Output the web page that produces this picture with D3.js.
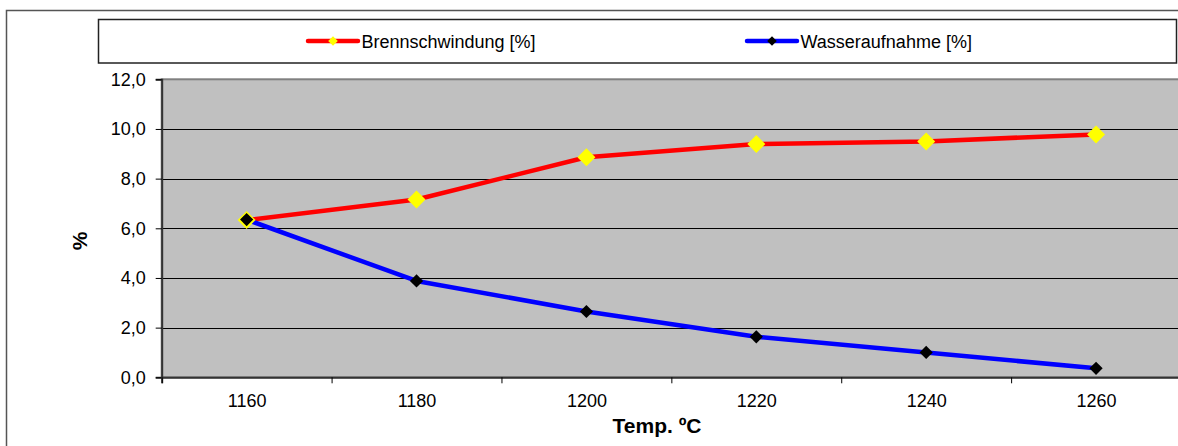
<!DOCTYPE html>
<html>
<head>
<meta charset="utf-8">
<script src="https://cdn.jsdelivr.net/npm/d3@7/dist/d3.min.js"></script>
<style>
  body { margin: 0; background: #fff; }
  svg { display: block; font-family: "Liberation Sans", Arial, sans-serif; }
</style>
</head>
<body>
<svg id="chart" width="1178" height="446"></svg>
<script>
const categories = [1160, 1180, 1200, 1220, 1240, 1260];
const boundaries = [1150, 1170, 1190, 1210, 1230, 1250, 1270];
const brennschwindung = [6.33, 7.16, 8.86, 9.39, 9.50, 9.78];
const wasseraufnahme = [6.35, 3.88, 2.65, 1.63, 1.00, 0.36];
const yTicks = [0, 2, 4, 6, 8, 10, 12];
const seriesNames = ["Brennschwindung [%]", "Wasseraufnahme [%]"];
const xTitle = "Temp. ºC";
const yTitle = "%";

const svg = d3.select("#chart");
const W = 1178, H = 446;
const plot = { left: 161.7, right: 1181, top: 79.3, bottom: 377.3 };

const x = d3.scaleLinear().domain([1150, 1270]).range([plot.left, plot.right]);
const y = d3.scaleLinear().domain([0, 12]).range([plot.bottom, plot.top]);

// outer chart border
svg.append("rect").attr("x", 6.5).attr("y", 10.5).attr("width", W + 10).attr("height", H + 10)
  .attr("fill", "#fff").attr("stroke", "#555").attr("stroke-width", 1.5);

// legend box
svg.append("rect").attr("x", 98.5).attr("y", 19.5).attr("width", 1078).attr("height", 43.5)
  .attr("fill", "#fff").attr("stroke", "#222").attr("stroke-width", 1.5);

// plot area
svg.append("rect").attr("x", plot.left).attr("y", plot.top)
  .attr("width", plot.right - plot.left).attr("height", plot.bottom - plot.top)
  .attr("fill", "#c0c0c0").attr("stroke", "#808080").attr("stroke-width", 2);

// gridlines
svg.append("g").selectAll("line").data(yTicks.filter(d => d > 0 && d < 12)).join("line")
  .attr("x1", plot.left).attr("x2", plot.right)
  .attr("y1", d => Math.round(y(d)) + 0.5).attr("y2", d => Math.round(y(d)) + 0.5)
  .attr("stroke", "#000").attr("stroke-width", 1);

// y axis
const fmt = d => d.toFixed(1).replace(".", ",");
const yAxis = svg.append("g").attr("transform", `translate(${plot.left},0)`)
  .call(d3.axisLeft(y).tickValues(yTicks).tickFormat(fmt).tickSize(6).tickPadding(10));
yAxis.select(".domain").attr("stroke", "#333").attr("stroke-width", 2);
yAxis.selectAll(".tick line").attr("stroke", "#000");
yAxis.selectAll("text").attr("font-size", 18).attr("fill", "#000")
  .attr("font-family", "Liberation Sans, Arial, sans-serif");

// x axis tick marks at boundaries
const xTickAxis = svg.append("g").attr("transform", `translate(0,${plot.bottom})`)
  .call(d3.axisBottom(x).tickValues(boundaries).tickFormat("").tickSize(6));
xTickAxis.select(".domain").attr("stroke", "#333").attr("stroke-width", 2);
xTickAxis.selectAll(".tick line").attr("stroke", "#000");

// x labels at categories
const xLabelAxis = svg.append("g").attr("transform", `translate(0,${plot.bottom})`)
  .call(d3.axisBottom(x).tickValues(categories).tickFormat(d => d).tickSize(0).tickPadding(17));
xLabelAxis.select(".domain").remove();
xLabelAxis.selectAll("text").attr("font-size", 18).attr("fill", "#000")
  .attr("font-family", "Liberation Sans, Arial, sans-serif");

// axis titles
svg.append("text").attr("x", 657).attr("y", 432.5).attr("text-anchor", "middle")
  .attr("font-size", 21).attr("font-weight", "bold").attr("fill", "#000").text(xTitle);
svg.append("text").attr("transform", "translate(87,241) rotate(-90)").attr("text-anchor", "middle")
  .attr("font-size", 21).attr("font-weight", "bold").attr("fill", "#000").text(yTitle);

// series
const diamond = s => `M0,${-s}L${s},0L0,${s}L${-s},0Z`;
const series = [
  { name: seriesNames[0], values: brennschwindung, color: "#ff0000", marker: "#ffff00", size: 9 },
  { name: seriesNames[1], values: wasseraufnahme, color: "#0000ff", marker: "#000000", size: 6.6 }
];
const line = d3.line().x((d, i) => x(categories[i])).y(d => y(d));
series.forEach(s => {
  svg.append("path").attr("d", line(s.values)).attr("fill", "none")
    .attr("stroke", s.color).attr("stroke-width", 4.5).attr("stroke-linejoin", "round");
});
series.forEach(s => {
  svg.append("g").selectAll("path").data(s.values).join("path")
    .attr("transform", (d, i) => `translate(${x(categories[i])},${y(d)})`)
    .attr("d", diamond(s.size)).attr("fill", s.marker);
});

// legend items
const legendItems = [
  { s: series[0], x0: 308, x1: 358, tx: 361.5 },
  { s: series[1], x0: 747, x1: 797, tx: 800.5 }
];
legendItems.forEach(l => {
  svg.append("line").attr("x1", l.x0).attr("x2", l.x1).attr("y1", 41).attr("y2", 41)
    .attr("stroke", l.s.color).attr("stroke-width", 4.5).attr("stroke-linecap", "round");
  svg.append("path").attr("transform", `translate(${(l.x0 + l.x1) / 2},41)`)
    .attr("d", diamond(4.8)).attr("fill", l.s.marker);
  svg.append("text").attr("x", l.tx).attr("y", 47.7).attr("font-size", 18).attr("fill", "#000")
    .text(l.s.name);
});
</script>
</body>
</html>
